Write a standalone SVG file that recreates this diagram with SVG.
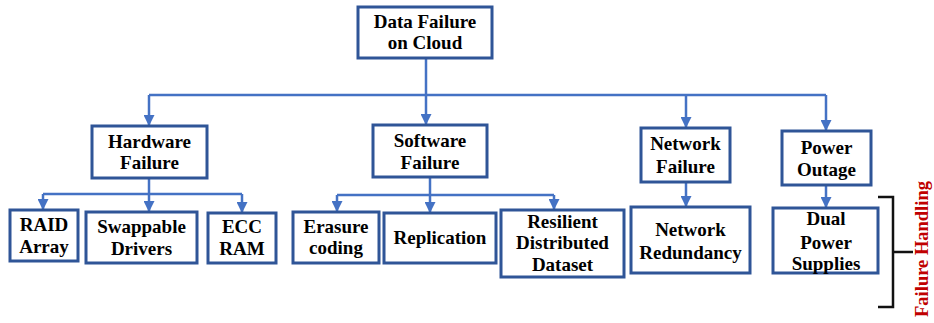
<svg xmlns="http://www.w3.org/2000/svg" width="934" height="323" viewBox="0 0 934 323">
  <style>
    .box { fill: #ffffff; stroke: #2F5597; stroke-width: 3; }
    .lbl { font-family: "Liberation Serif", "Times New Roman", serif; font-weight: bold; font-size: 19px; fill: #000000; text-anchor: middle; }
    .wire { fill: none; stroke: #4472C4; stroke-width: 2.5; }
    .arr { fill: none; stroke: #4472C4; stroke-width: 2.5; marker-end: url(#tip); }
    .brace { fill: none; stroke: #111111; stroke-width: 2.5; }
    .side { font-family: "Liberation Serif", "Times New Roman", serif; font-weight: bold; font-size: 18.5px; fill: #C00000; text-anchor: middle; }
  </style>
  <defs>
    <marker id="tip" viewBox="0 0 10 10" refX="9" refY="5" markerWidth="4.4" markerHeight="4.4" orient="auto" markerUnits="strokeWidth">
      <path d="M0,0 L10,5 L0,10 z" fill="#4472C4"/>
    </marker>
  </defs>
  <rect width="934" height="323" fill="#ffffff"/>

  <!-- connectors -->
  <g id="connectors">
    <path class="wire" d="M426,58 V95"/>
    <path class="wire" d="M149,95 H826"/>
    <path class="arr" d="M149,95 V125"/>
    <path class="arr" d="M426,95 V124"/>
    <path class="arr" d="M686,95 V127"/>
    <path class="arr" d="M826,95 V130"/>

    <path class="wire" d="M149,178 V194"/>
    <path class="wire" d="M43,194 H242"/>
    <path class="arr" d="M43,194 V209"/>
    <path class="arr" d="M149,194 V211"/>
    <path class="arr" d="M242,194 V212"/>

    <path class="wire" d="M430,177 V195"/>
    <path class="wire" d="M337,195 H554"/>
    <path class="arr" d="M337,195 V211"/>
    <path class="arr" d="M430,195 V212"/>
    <path class="arr" d="M554,195 V209"/>

    <path class="arr" d="M686,182 V206"/>
    <path class="arr" d="M826,185 V207"/>
  </g>

  <!-- root -->
  <g id="data-failure">
    <rect class="box" x="358" y="7" width="134" height="51"/>
    <text class="lbl" x="425" y="28">Data Failure</text>
    <text class="lbl" x="425" y="49">on Cloud</text>
  </g>

  <!-- failure categories -->
  <g id="hardware-failure">
    <rect class="box" x="92" y="126" width="115" height="52"/>
    <text class="lbl" x="149.5" y="148">Hardware</text>
    <text class="lbl" x="149.5" y="169">Failure</text>
  </g>
  <g id="software-failure">
    <rect class="box" x="373" y="125" width="114" height="52"/>
    <text class="lbl" x="430" y="147">Software</text>
    <text class="lbl" x="430" y="169">Failure</text>
  </g>
  <g id="network-failure">
    <rect class="box" x="641" y="128" width="89" height="54"/>
    <text class="lbl" x="685.5" y="150">Network</text>
    <text class="lbl" x="685.5" y="173">Failure</text>
  </g>
  <g id="power-outage">
    <rect class="box" x="782" y="131" width="89" height="54"/>
    <text class="lbl" x="826.5" y="154">Power</text>
    <text class="lbl" x="826.5" y="176">Outage</text>
  </g>

  <!-- handling techniques -->
  <g id="raid-array">
    <rect class="box" x="10" y="210" width="68" height="51"/>
    <text class="lbl" x="44" y="231">RAID</text>
    <text class="lbl" x="44" y="253">Array</text>
  </g>
  <g id="swappable-drivers">
    <rect class="box" x="86" y="212" width="111" height="51"/>
    <text class="lbl" x="141.5" y="233">Swappable</text>
    <text class="lbl" x="141.5" y="255">Drivers</text>
  </g>
  <g id="ecc-ram">
    <rect class="box" x="208" y="213" width="68" height="50"/>
    <text class="lbl" x="242" y="233">ECC</text>
    <text class="lbl" x="242" y="255">RAM</text>
  </g>
  <g id="erasure-coding">
    <rect class="box" x="293" y="212" width="86" height="51"/>
    <text class="lbl" x="336" y="233">Erasure</text>
    <text class="lbl" x="336" y="254">coding</text>
  </g>
  <g id="replication">
    <rect class="box" x="384" y="213" width="112" height="50"/>
    <text class="lbl" x="440" y="244">Replication</text>
  </g>
  <g id="rdd">
    <rect class="box" x="501" y="210" width="123" height="67"/>
    <text class="lbl" x="562.5" y="228">Resilient</text>
    <text class="lbl" x="562.5" y="249">Distributed</text>
    <text class="lbl" x="562.5" y="271">Dataset</text>
  </g>
  <g id="network-redundancy">
    <rect class="box" x="631" y="207" width="119" height="66"/>
    <text class="lbl" x="690.5" y="236">Network</text>
    <text class="lbl" x="690.5" y="259">Redundancy</text>
  </g>
  <g id="dual-power">
    <rect class="box" x="773" y="208" width="105" height="65"/>
    <text class="lbl" x="826" y="225">Dual</text>
    <text class="lbl" x="826" y="249">Power</text>
    <text class="lbl" x="826" y="270">Supplies</text>
  </g>

  <!-- side brace and label -->
  <g id="failure-handling">
    <path class="brace" d="M878,197 H893 V307 H878 M893,252 H913"/>
    <text class="side" transform="translate(928,249) rotate(-90)">Failure Handling</text>
  </g>
</svg>
